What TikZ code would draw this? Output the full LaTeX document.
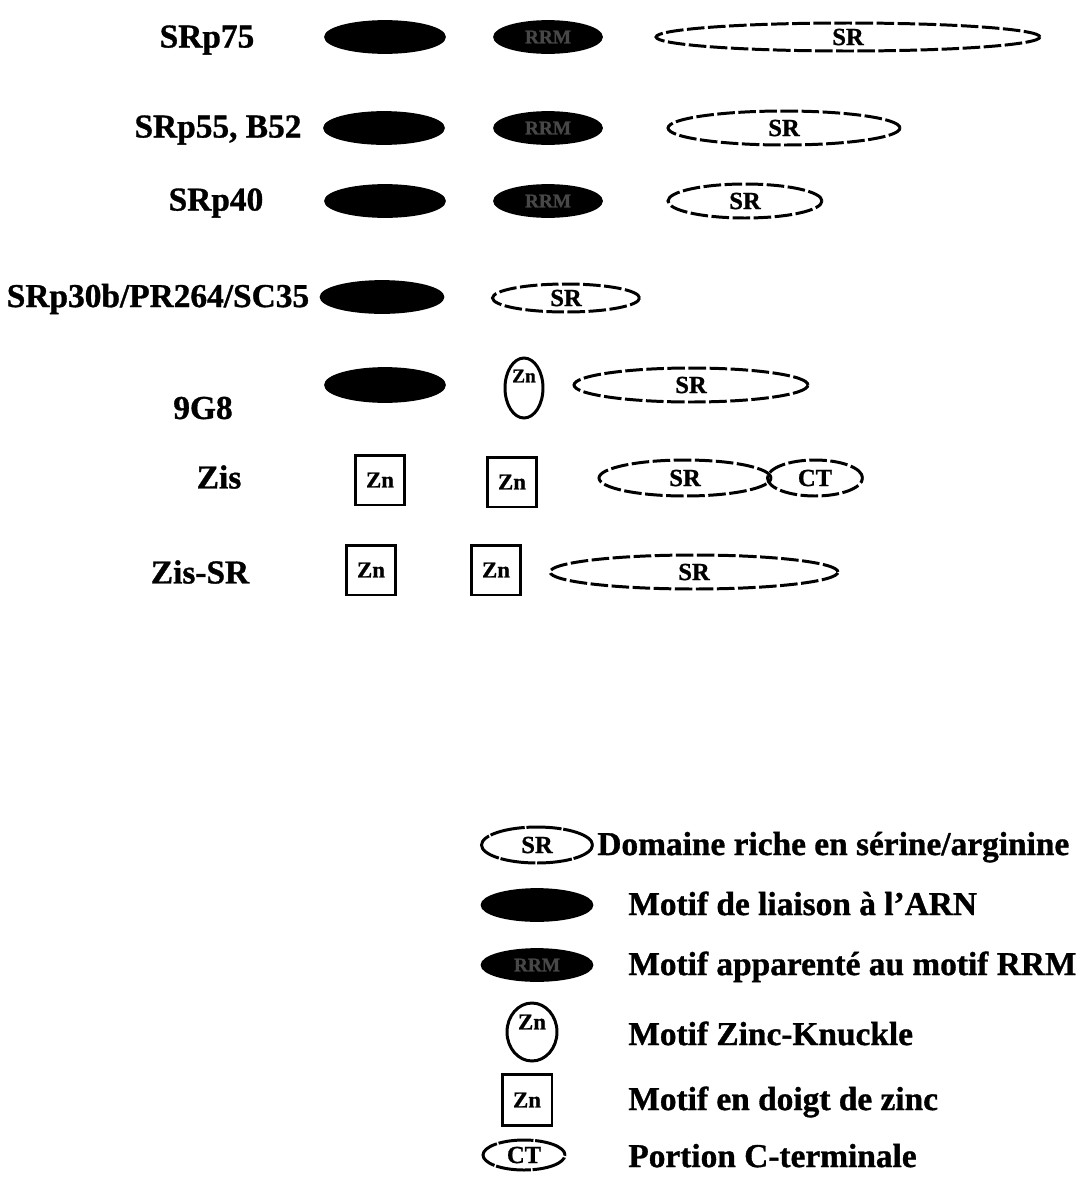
\documentclass[tikz,border=0pt]{standalone}
\usepackage{fontspec}
\setmainfont{Liberation Serif}[BoldFeatures={FakeBold=1}]
\usetikzlibrary{shapes.geometric}
\begin{document}
\begin{tikzpicture}[x=0.02cm,y=-0.02cm,
  protlabel/.style={font=\fontsize{19}{22}\selectfont\bfseries, inner sep=0pt},
  legtext/.style={font=\fontsize{19}{22}\selectfont\bfseries, inner sep=0pt, anchor=mid west},
  inner/.style={font=\fontsize{13}{15}\selectfont\bfseries, inner sep=0pt},
  rbd/.style={ellipse, fill=black, draw=black, line width=1pt, inner sep=0pt,
    minimum width=2.4cm, minimum height=0.64cm},
  rrm/.style={rbd, minimum width=2.16cm, text=black!72, font=\fontsize{11}{13}\selectfont\bfseries},
  srdom/.style={ellipse, draw, line width=1.7pt, dash pattern=on 10pt off 2pt, inner sep=0pt,
    font=\fontsize{14}{16}\selectfont\bfseries},
  ctdom/.style={srdom},
  zknuckle/.style={ellipse, draw, line width=1.7pt, inner sep=0pt},
  zfinger/.style={rectangle, draw, line width=1.7pt, inner sep=0pt,
    minimum width=0.98cm, minimum height=1cm, font=\fontsize{13}{15}\selectfont\bfseries}
]
\useasboundingbox (0,0) rectangle (1083,1180);

% SRp75
\node[protlabel] (l1) at (207,40) {SRp75};
\node[rbd] (a1) at (385,37) {};
\node[rrm] (b1) at (548,37) {RRM};
\node[srdom, minimum width=7.68cm, minimum height=0.56cm] (c1) at (848,37) {SR};

% SRp55, B52
\node[protlabel] (l2) at (218,130) {SRp55, B52};
\node[rbd] (a2) at (384,128) {};
\node[rrm] (b2) at (548,128) {RRM};
\node[srdom, minimum width=4.64cm, minimum height=0.68cm] (c2) at (784,128) {SR};

% SRp40
\node[protlabel] (l3) at (216,203) {SRp40};
\node[rbd] (a3) at (385,201) {};
\node[rrm] (b3) at (548,201) {RRM};
\node[srdom, minimum width=3.08cm, minimum height=0.68cm] (c3) at (745,201) {SR};

% SRp30b/PR264/SC35
\node[protlabel] (l4) at (158,299) {SRp30b/PR264/SC35};
\node[rbd, minimum width=2.46cm] (a4) at (382,297) {};
\node[srdom, minimum width=2.94cm, minimum height=0.56cm] (c4) at (566,298) {SR};

% 9G8
\node[protlabel] (l5) at (203,408) {9G8};
\node[rbd, minimum height=0.68cm] (a5) at (385,385) {};
\node[zknuckle, minimum width=0.76cm, minimum height=1.2cm] (k5) at (524,388) {};
\node[inner, font=\fontsize{11}{13}\selectfont\bfseries] (k5t) at (524,376) {Zn};
\node[srdom, minimum width=4.68cm, minimum height=0.68cm] (c5) at (691,385) {SR};

% Zis
\node[protlabel] (l6) at (219,477) {Zis};
\node[zfinger] (f6a) at (380,480) {Zn};
\node[zfinger] (f6b) at (512,482) {Zn};
\node[srdom, minimum width=3.44cm, minimum height=0.72cm] (c6) at (685,478) {SR};
\node[ctdom, minimum width=1.9cm, minimum height=0.72cm] (t6) at (815,478) {CT};

% Zis-SR
\node[protlabel] (l7) at (200,572) {Zis-SR};
\node[zfinger] (f7a) at (371,570) {Zn};
\node[zfinger] (f7b) at (496,570) {Zn};
\node[srdom, minimum width=5.76cm, minimum height=0.68cm] (c7) at (694,572) {SR};

% key
\node[srdom, dash pattern=on 20pt off 1pt, minimum width=2.22cm, minimum height=0.72cm] (kSR) at (537,845) {SR};
\node[legtext] (kSRt) at (597,851) {Domaine riche en sérine/arginine};

\node[rbd, minimum width=2.22cm] (kRBD) at (537,905) {};
\node[legtext] (kRBDt) at (628,911) {Motif de liaison à l’ARN};

\node[rrm, minimum width=2.22cm] (kRRM) at (537,965) {RRM};
\node[legtext] (kRRMt) at (628,971) {Motif apparenté au motif RRM};

\node[zknuckle, minimum width=1cm, minimum height=1.16cm] (kZK) at (532,1032) {};
\node[inner] (kZKt0) at (532,1022) {Zn};
\node[legtext] (kZKt) at (628,1041) {Motif Zinc-Knuckle};

\node[zfinger, minimum width=1cm, minimum height=1.02cm] (kZF) at (527,1100) {Zn};
\node[legtext] (kZFt) at (628,1106) {Motif en doigt de zinc};

\node[ctdom, dash pattern=on 20pt off 1pt, minimum width=1.64cm, minimum height=0.6cm] (kCT) at (524,1155) {CT};
\node[legtext] (kCTt) at (628,1163) {Portion C-terminale};
\end{tikzpicture}
\end{document}
